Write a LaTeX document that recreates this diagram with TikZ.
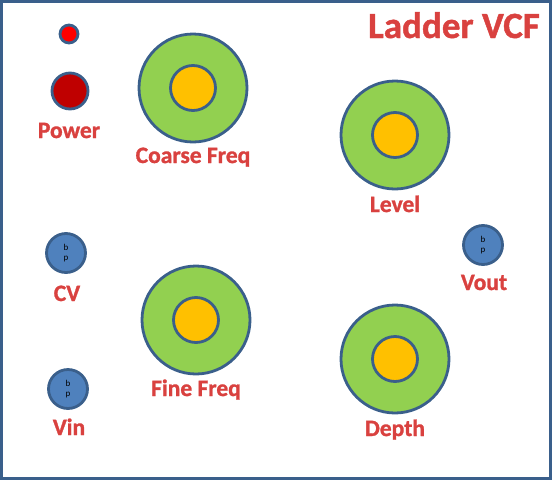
\documentclass[tikz,border=0pt]{standalone}
\usepackage{fontspec}
\setmainfont{Carlito}
\newfontfamily\lblfont[FakeBold=1.2]{Carlito Bold}
\definecolor{rim}{HTML}{3A5F8B}
\definecolor{knobgreen}{HTML}{92D050}
\definecolor{knobcap}{HTML}{FFC000}
\definecolor{jackblue}{HTML}{4F81BD}
\definecolor{lblred}{HTML}{D9413F}
\begin{document}
\begin{tikzpicture}[x=1pt, y=-1pt,
		knob/.style={circle, draw=rim, line width=2.8pt, fill=knobgreen, minimum size=108pt, inner sep=0pt},
		knobcap/.style={circle, draw=rim, line width=2.8pt, fill=knobcap, minimum size=45pt, inner sep=0pt},
		jack/.style={circle, draw=rim, line width=2.8pt, fill=jackblue, minimum size=39pt, inner sep=0pt, align=center, font=\fontsize{9}{10}\selectfont},
		lbl/.style={anchor=base, text=lblred, font=\lblfont\fontsize{23.5}{24}\selectfont}]
			\useasboundingbox (0,0) rectangle (552,480);
			\draw[rim, line width=3pt] (1.5,1.5) rectangle (550.5,478.5);
			% title
			\node[lbl, font=\lblfont\fontsize{37}{37}\selectfont] (title) at (454,38) {Ladder VCF};
			% power led and jack
			\node[circle, draw=rim, line width=2.8pt, fill=red, minimum size=18pt, inner sep=0pt] (led) at (69,34) {};
			\node[circle, draw=rim, line width=2.8pt, fill=red!75!black, minimum size=36pt, inner sep=0pt] (power) at (70,91) {};
			\node[lbl] (powerlbl) at (69,138) {Power};
			% knobs
			\foreach \name/\x/\y/\txt/\ty in {coarse/193/88/Coarse Freq/163, level/395/135/Level/212, fine/196/320/Fine Freq/396, depth/395/359/Depth/436} {
				\node[knob] (\name) at (\x,\y) {};
				\node[knobcap] (\name cap) at (\x,\y) {};
				\node[lbl] (\name lbl) at (\x,\ty) {\txt};
			}
			% jacks
			\foreach \name/\x/\y/\txt/\ty in {cv/66/253/CV/301, vin/68/389/Vin/435, vout/483/245/Vout/290} {
				\node[jack] (\name) at (\x,\y) {b\\p};
				\node[lbl] (\name lbl) at (\x+1,\ty) {\txt};
			}
		\end{tikzpicture}
\end{document}
